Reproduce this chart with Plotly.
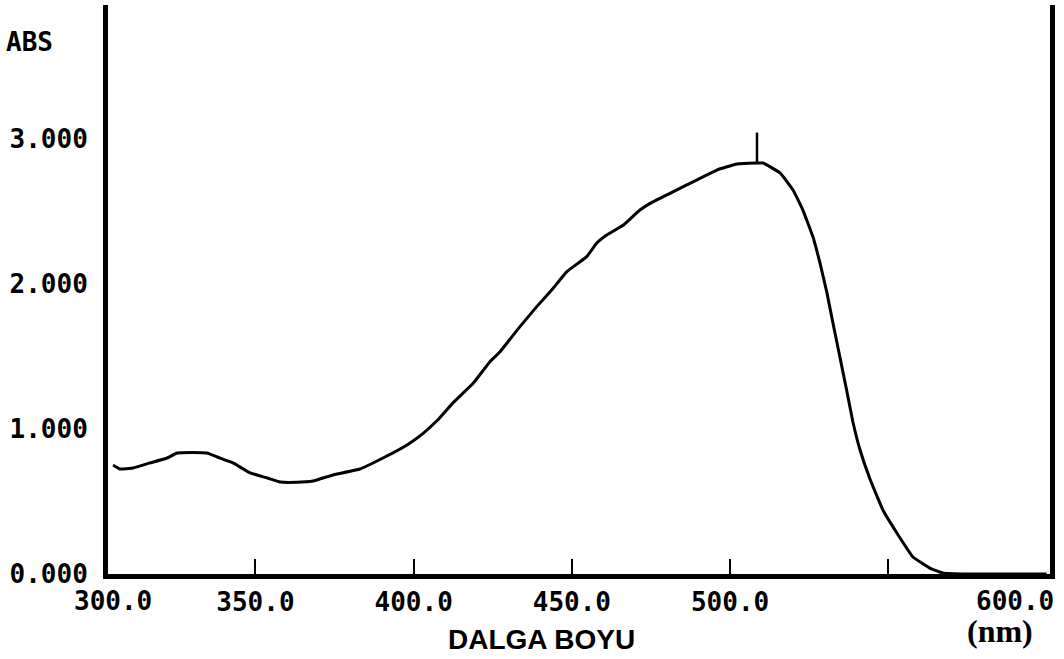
import plotly.graph_objects as go

# Absorption spectrum (wavelength in nm, absorbance)
wavelength = [305.0, 307.2, 311.3, 316.7, 322.1, 325.2, 330.0, 334.7, 337.9, 342.9,
              348.3, 353.7, 357.8, 363.0, 368.2, 374.5, 383.0, 390.3, 397.9, 403.0,
              407.5, 412.5, 418.8, 424.1, 427.3, 433.6, 438.9, 444.1, 448.4, 454.7,
              457.8, 461.0, 466.3, 471.5, 474.7, 481.0, 486.3, 495.8,
              502.2, 508.5, 510.4, 515.8, 519.9, 523.0, 526.2, 528.4, 530.6, 532.5,
              534.7, 536.9, 538.8, 541.0, 544.2, 548.3, 552.7, 557.8, 563.1, 567.2,
              575.0, 585.0, 600.0]
absorbance = [0.752, 0.724, 0.731, 0.766, 0.800, 0.834, 0.838, 0.834, 0.807, 0.766,
              0.697, 0.662, 0.634, 0.632, 0.641, 0.683, 0.724, 0.800, 0.890, 0.970,
              1.060, 1.182, 1.315, 1.464, 1.533, 1.706, 1.844, 1.971, 2.085, 2.189,
              2.281, 2.338, 2.407, 2.510, 2.556, 2.625, 2.683, 2.786,
              2.828, 2.834, 2.834, 2.766, 2.648, 2.510, 2.324, 2.145, 1.940, 1.731,
              1.497, 1.260, 1.050, 0.860, 0.655, 0.441, 0.283, 0.117, 0.041, 0.007,
              0.0, 0.0, 0.0]

# Peak marker
peak_nm = 508.5
peak_abs = 2.834
peak_marker_len = 0.21

x_ticks = [350, 400, 450, 500, 550]
x_tick_text = ["350.0", "400.0", "450.0", "500.0", ""]
y_ticks = [0, 1, 2, 3]
y_tick_text = ["0.000", "1.000", "2.000", "3.000"]

x_range = [303.4, 601.1]
y_range = [0, 3.924]

mono = dict(family="DejaVu Sans Mono", size=26, color="black", weight="bold")

fig = go.Figure()
fig.add_trace(go.Scatter(
    x=wavelength, y=absorbance, mode="lines",
    line=dict(color="black", width=3, shape="spline", smoothing=0.3),
    hoverinfo="skip", showlegend=False,
))
fig.add_trace(go.Scatter(
    x=[peak_nm, peak_nm], y=[peak_abs, peak_abs + peak_marker_len], mode="lines",
    line=dict(color="black", width=2.5),
    hoverinfo="skip", showlegend=False,
))

fig.update_layout(
    width=1064, height=659,
    margin=dict(l=108, r=14, t=5, b=85),
    paper_bgcolor="white", plot_bgcolor="white",
    xaxis=dict(
        range=x_range, tickvals=x_ticks, ticktext=x_tick_text,
        ticks="inside", ticklen=15, tickwidth=2, tickcolor="black",
        showgrid=False, zeroline=False, automargin=False,
        showline=True, linecolor="black", linewidth=5,
        tickfont=mono, ticklabelstandoff=1,
    ),
    yaxis=dict(
        range=y_range, tickvals=y_ticks, ticktext=y_tick_text,
        ticks="", showgrid=False, zeroline=False, automargin=False,
        showline=True, linecolor="black", linewidth=5, mirror=True,
        tickfont=mono, ticklabelstandoff=10,
    ),
    annotations=[
        dict(text="ABS", xref="paper", yref="paper", x=-0.11, y=(574 - 42) / 569,
             xanchor="left", yanchor="middle", showarrow=False, font=mono),
        dict(text="300.0", xref="paper", yref="paper", x=0.005, y=-(601 - 574) / 569,
             xanchor="center", yanchor="middle", showarrow=False, font=mono),
        dict(text="600.0", xref="paper", yref="paper", x=1.006, y=-(601 - 574) / 569,
             xanchor="right", yanchor="middle", showarrow=False, font=mono),
        dict(text="(nm)", xref="paper", yref="paper", x=0.947, y=-(631 - 574) / 569,
             xanchor="center", yanchor="middle", showarrow=False,
             font=dict(family="Liberation Serif", size=32, color="black", weight="bold")),
        dict(text="DALGA BOYU", xref="paper", yref="paper", x=(541 - 108) / 942,
             y=-(639 - 574) / 569, xanchor="center", yanchor="middle", showarrow=False,
             font=dict(family="Liberation Sans", size=28, color="black", weight="bold")),
    ],
)

fig.write_html("out.html")
